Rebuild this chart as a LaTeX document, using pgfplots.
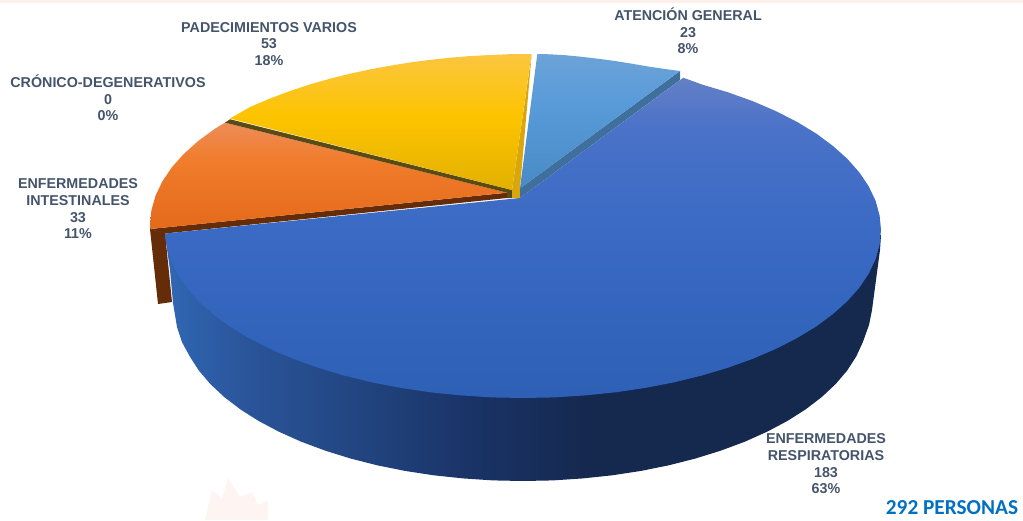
\documentclass[border=0pt]{standalone}
\usepackage{fontspec}
\setmainfont{Liberation Sans}
\newfontfamily\carl{Carlito}
\usepackage{pgfplots}
\pgfplotsset{compat=1.18}
\definecolor{lab}{HTML}{44546A}
\definecolor{tot}{HTML}{0070C0}
\definecolor{sa}{HTML}{3067B4}
\definecolor{sb}{HTML}{2A5499}
\definecolor{sc}{HTML}{224682}
\definecolor{sd}{HTML}{1A3468}
\definecolor{se}{HTML}{15284E}
\pgfdeclarehorizontalshading{sideblue}{100bp}{
  color(0bp)=(sa);color(25bp)=(sa);color(31bp)=(sb);color(38bp)=(sc);color(46bp)=(sd);color(55bp)=(se);color(100bp)=(se)}
\definecolor{ba}{HTML}{2E60B6}
\definecolor{bb}{HTML}{3A6AC4}
\definecolor{bc}{HTML}{4A72C8}
\definecolor{bd}{HTML}{6480C6}
\pgfdeclareverticalshading{topblue}{100bp}{
  color(0bp)=(ba);color(25bp)=(ba);color(51bp)=(bb);color(67bp)=(bc);color(75bp)=(bd);color(100bp)=(bd)}
\definecolor{ya}{HTML}{E2B000}
\definecolor{yb}{HTML}{FDC400}
\definecolor{yc}{HTML}{FBC540}
\pgfdeclareverticalshading{topyellow}{100bp}{
  color(0bp)=(ya);color(25bp)=(ya);color(52bp)=(yb);color(75bp)=(yc);color(100bp)=(yc)}
\definecolor{oa}{HTML}{E46A1A}
\definecolor{ob}{HTML}{F07C2C}
\definecolor{oc}{HTML}{EE8C58}
\pgfdeclareverticalshading{toporange}{100bp}{
  color(0bp)=(oa);color(25bp)=(oa);color(57bp)=(ob);color(75bp)=(oc);color(100bp)=(oc)}
\definecolor{la}{HTML}{478BC6}
\definecolor{lb}{HTML}{5A9BD9}
\definecolor{lc}{HTML}{6CA3D8}
\pgfdeclareverticalshading{toplight}{100bp}{
  color(0bp)=(la);color(25bp)=(la);color(58bp)=(lb);color(75bp)=(lc);color(100bp)=(lc)}
\begin{document}
\begin{tikzpicture}
\begin{axis}[
  scale only axis, width=1023pt, height=520pt,
  xmin=0, xmax=1023, ymin=0, ymax=520, y dir=reverse,
  hide axis, clip=true,
  every axis plot/.append style={line width=0pt, no markers}]
% top band
\addplot[draw=none, fill={rgb,255:red,253;green,240;blue,234}] coordinates {(0,0)(1023,0)(1023,2.7)(0,2.7)} --cycle;
% faint watermark
\addplot[draw=none, fill={rgb,255:red,254;green,245;blue,242}] coordinates {(205,520)(212,490)(222,498)(228,478)(240,497)(252,492)(258,505)(268,500)(268,520)} --cycle;
% outer side of the big slice
\addplot[draw=none, shading=sideblue] coordinates {
(881,235)(880,250)(876,280)(872,310)(869,325)(862.8,342.2)(856.2,356.5)(847.2,370.5)(835.7,384)(821.8,397)(805.6,409.4)(787.3,421)(766.9,431.8)(744.8,441.7)(720.9,450.6)(695.5,458.5)(668.8,465.3)(641,470.9)(612.3,475.3)(582.9,478.4)(553.1,480.4)(523,481)(492.9,480.4)(463.1,478.4)(433.7,475.3)(405,470.9)(377.2,465.3)(350.5,458.5)(325.1,450.6)(301.2,441.7)(279.1,431.8)(258.7,421)(240.4,409.4)(224.2,397)(210.3,384)(198.8,370.5)(189.8,356.5)(182,342.2)(177,327)(173,303)(170,270)(165,235)} --cycle;
% brown sides of the orange slice
\addplot[draw=none, fill={rgb,255:red,100;green,44;blue,8}] coordinates {(150,229)(158,304)(172,302)(165,233)} --cycle;
\addplot[draw=none, fill={rgb,255:red,100;green,44;blue,8}] coordinates {(150,229)(507,192.7)(507,198)(165,233.5)} --cycle;
% orange top
\addplot[draw=none, shading=toporange] coordinates {(150,229)(150,225)(151.4,210.4)(155.5,195.8)(162.3,181.5)(171.7,167.5)(183.7,154)(198.2,141)(215.1,128.6)(225,122.6)(507,192.7)} --cycle;
% dark side of the yellow slice
\addplot[draw=none, fill={rgb,255:red,90;green,74;blue,20}] coordinates {(225,122.6)(230,119.3)(512,190)(512,198)(507,198)(507,192.7)} --cycle;
\addplot[draw=none, fill={rgb,255:red,217;green,167;blue,12}] coordinates {(531.7,54)(520,188)(520,198)(512,198)(512,190)} --cycle;
% yellow top
\addplot[draw=none, shading=topyellow] coordinates {(230,118.5)(250,107)(270,98.5)(290,91)(310,84.4)(330,78.7)(350,73.7)(370,69.4)(390,65.7)(410,62.5)(430,59.9)(450,57.7)(470,56.1)(490,55)(510,54.2)(531.5,54)(512,190)} --cycle;
% light blue side and top
\addplot[draw=none, fill={rgb,255:red,63;green,111;blue,156}] coordinates {(680,71)(680,80)(520,198)(520,188.3)} --cycle;
\addplot[draw=none, shading=toplight] coordinates {(537.3,54)(550,54.3)(565,55.2)(580,56.6)(600,59)(615,61)(630,63.4)(650,66.8)(665,69)(680,71)(520,188.3)} --cycle;
% big slice top
\addplot[draw=none, shading=topblue] coordinates {
(520,198)(683.3,77.7)(702,84.5)(728.3,92.4)(753.1,101.3)(776.1,111.2)(797.2,122)(816.3,133.6)(833,146)(847.5,159)(859.4,172.5)(868.8,186.5)(875.6,200.8)(879.6,215.4)(881,230)(879.6,244.6)(875.6,259.2)(868.8,273.5)(859.4,287.5)(847.5,301)(833,314)(816.3,326.4)(797.2,338)(776.1,348.8)(753.1,358.7)(728.3,367.6)(702,375.5)(674.3,382.3)(645.4,387.9)(615.7,392.3)(585.2,395.4)(554.2,397.4)(523,398)(491.8,397.4)(460.8,395.4)(430.3,392.3)(400.6,387.9)(371.7,382.3)(344,375.5)(317.7,367.6)(292.9,358.7)(269.9,348.8)(248.8,338)(229.7,326.4)(213,314)(198.5,301)(186.6,287.5)(177.2,273.5)(170.4,259.2)(166.4,244.6)(165,233.5)} --cycle;
% labels
\tikzset{lb/.style={align=center, text=lab, font=\fontsize{14.3}{16.7}\selectfont\bfseries, inner sep=0pt}}
\node[lb] at (axis cs:269,44) {PADECIMIENTOS VARIOS\\53\\18\%};
\node[lb] at (axis cs:108,98) {CRÓNICO-DEGENERATIVOS\\0\\0\%};
\node[lb] at (axis cs:688,31) {ATENCIÓN GENERAL\\23\\8\%};
\node[lb] at (axis cs:78,209) {ENFERMEDADES\\INTESTINALES\\33\\11\%};
\node[lb] at (axis cs:826,464) {ENFERMEDADES\\RESPIRATORIAS\\183\\63\%};
\node[text=tot, font=\fontsize{21.3}{24}\selectfont\carl\bfseries, inner sep=0pt] at (axis cs:952,508) {292 PERSONAS};
\end{axis}
\end{tikzpicture}
\end{document}
